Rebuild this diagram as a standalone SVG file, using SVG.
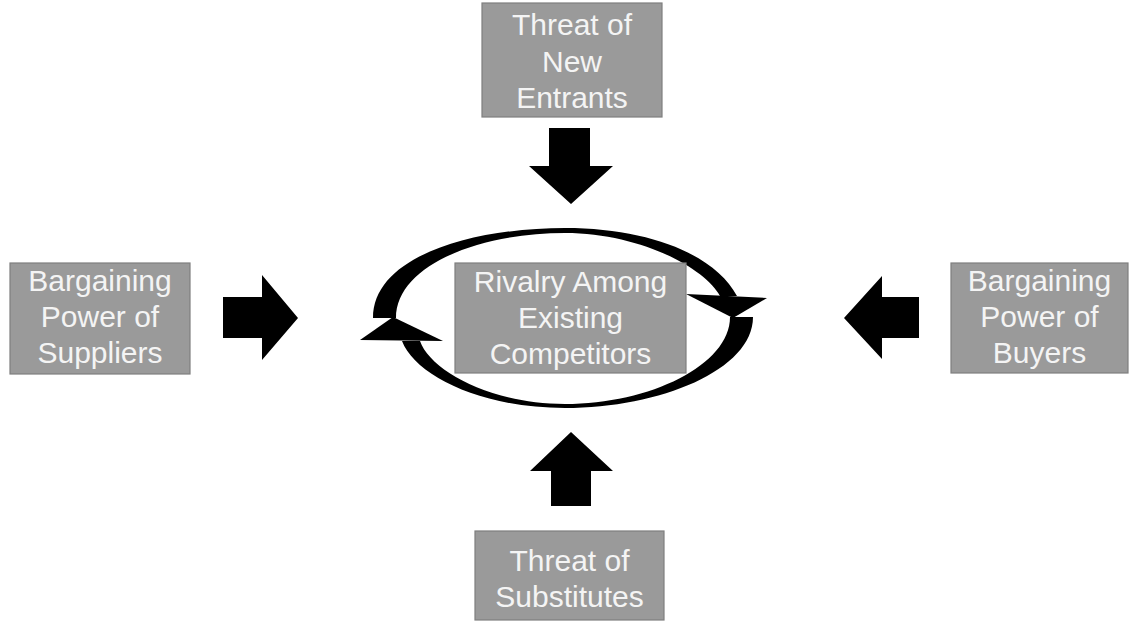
<svg xmlns="http://www.w3.org/2000/svg" width="1131" height="621" viewBox="0 0 1131 621">
  <style>
    .box { fill: #9a9a9a; stroke: #7f7f7f; stroke-width: 1.2; }
    .label { font-family: "Liberation Sans", Arial, sans-serif; font-size: 30px; fill: #f4f4f4; text-anchor: middle; }
    .block { fill: #000000; }
  </style>
  <rect width="1131" height="621" fill="#ffffff"/>

  <!-- cycle of rivalry: two curved arrows around the centre box -->
  <g id="rivalry-cycle">
    <!-- upper arc, left to right, head pointing down -->
    <path class="block" d="M373,318 C373,255 475,228 565,228 C650,228 715,255 737,296 L720,296 C705,268 640,233 565,233 C480,233 396,265 396,318 Z"/>
    <polygon class="block" points="686,294 767,298 733,318"/>
    <!-- lower arc, right to left, head pointing up -->
    <path class="block" d="M753,317 C753,370 660,408 565,408 C480,408 415,375 402,341 L420,341 C430,370 490,404 565,404 C650,404 730,365 730,317 Z"/>
    <polygon class="block" points="360,340 393,317 443,341"/>
  </g>

  <!-- force arrows pointing at the centre -->
  <g id="connectors">
    <polygon class="block" points="549,128 590,128 590,166 613,166 571,204 529,166 549,166"/>
    <polygon class="block" points="223,297 262,297 262,275 298,318 262,360 262,338 223,338"/>
    <polygon class="block" points="919,297 882,297 882,276 844,318 882,359 882,338 919,338"/>
    <polygon class="block" points="551,506 591,506 591,471 613,471 571,432 530,471 551,471"/>
  </g>

  <g id="node-rivalry">
    <rect class="box" x="455" y="263" width="231" height="110"/>
    <text class="label" x="570.5" y="292">Rivalry Among</text>
    <text class="label" x="570.5" y="328">Existing</text>
    <text class="label" x="570.5" y="364">Competitors</text>
  </g>

  <g id="node-new-entrants">
    <rect class="box" x="482" y="3" width="180" height="114"/>
    <text class="label" x="572" y="35">Threat of</text>
    <text class="label" x="572" y="72">New</text>
    <text class="label" x="572" y="108">Entrants</text>
  </g>

  <g id="node-suppliers">
    <rect class="box" x="10" y="263" width="180" height="111"/>
    <text class="label" x="100" y="291">Bargaining</text>
    <text class="label" x="100" y="327">Power of</text>
    <text class="label" x="100" y="363">Suppliers</text>
  </g>

  <g id="node-buyers">
    <rect class="box" x="951" y="263" width="177" height="110"/>
    <text class="label" x="1039.5" y="291">Bargaining</text>
    <text class="label" x="1039.5" y="327">Power of</text>
    <text class="label" x="1039.5" y="363">Buyers</text>
  </g>

  <g id="node-substitutes">
    <rect class="box" x="475" y="531" width="189" height="89"/>
    <text class="label" x="569.5" y="571">Threat of</text>
    <text class="label" x="569.5" y="607">Substitutes</text>
  </g>
</svg>
